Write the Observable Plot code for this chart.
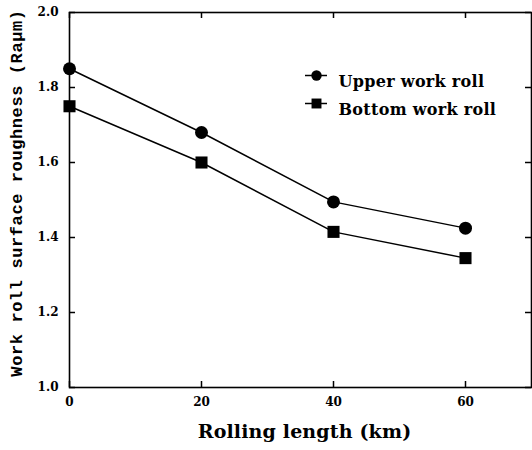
<!DOCTYPE html>
<html>
<head>
<meta charset="utf-8">
<script src="https://cdn.jsdelivr.net/npm/d3@7"></script>
<script src="https://cdn.jsdelivr.net/npm/@observablehq/plot@0.6"></script>
<style>
  body { margin: 0; background: #fff; }
  svg g[font-size="19"] { letter-spacing: 0.15px; }
  svg g[font-size="17"] { letter-spacing: 0.6px; }
  svg g[font-size="16"] { letter-spacing: 0.3px; }
</style>
</head>
<body>
<div id="chart"></div>
<script>
// Roll roughness measured against rolling length
const lengths = [0, 20, 40, 60];
const upperRoll = [1.85, 1.68, 1.495, 1.425];
const bottomRoll = [1.75, 1.60, 1.415, 1.345];
const seriesNames = ["Upper work roll", "Bottom work roll"];
const seriesSymbols = ["circle", "square"];
const xTicks = [0, 20, 40, 60];
const yTicks = [1.0, 1.2, 1.4, 1.6, 1.8, 2.0];
const xLabel = "Rolling length (km)";
const yLabel = "Work roll surface roughness (Raμm)";

const W = 532, H = 450;
const mL = 69, mR = 1, mT = 12, mB = 63;
const fw = W - mL - mR, fh = H - mT - mB;
const tick = 6;
const serif = "'DejaVu Serif', serif";
const mono = "'Liberation Mono', 'DejaVu Sans Mono', monospace";

const rows = [
  ...lengths.map((x, i) => ({series: seriesNames[0], x, y: upperRoll[i]})),
  ...lengths.map((x, i) => ({series: seriesNames[1], x, y: bottomRoll[i]}))
];
const symbolSize = {circle: 6.5, square: 6.8};
const tickStyle = {stroke: "black", strokeWidth: 1.5};

const marks = [
  Plot.frame({stroke: "black", strokeWidth: 1.6}),
  // inward ticks on all four sides
  Plot.ruleX(xTicks, {x: d => d, insetTop: fh - tick, ...tickStyle}),
  Plot.ruleX(xTicks, {x: d => d, insetBottom: fh - tick, ...tickStyle}),
  Plot.ruleY(yTicks, {y: d => d, insetRight: fw - tick, ...tickStyle}),
  Plot.ruleY(yTicks, {y: d => d, insetLeft: fw - tick, ...tickStyle}),
  Plot.axisX({ticks: xTicks, tickSize: 0, tickPadding: 10, tickFormat: d => String(d), fontSize: 12, fontWeight: "bold", label: null}),
  Plot.axisY({ticks: yTicks, tickSize: 0, tickPadding: 11, tickFormat: d3.format(".1f"), fontSize: 12, fontWeight: "bold", label: null}),
  Plot.text([xLabel], {frameAnchor: "bottom", dy: 50, dx: 4, fontSize: 19, fontWeight: "bold", fill: "black"}),
  Plot.text([yLabel], {frameAnchor: "left", textAnchor: "middle", rotate: -90, dx: -53, dy: -7, fontFamily: mono, fontSize: 17, fontWeight: "bold", fill: "black"}),
  Plot.line(rows, {x: "x", y: "y", z: "series", stroke: "black", strokeWidth: 1.5})
];

seriesNames.forEach((name, i) => {
  const pts = rows.filter(d => d.series === name);
  const sym = seriesSymbols[i];
  marks.push(Plot.dot(pts, {x: "x", y: "y", symbol: () => sym, r: symbolSize[sym], fill: "black", stroke: "none"}));
  // legend entry: short line with the series symbol, then its name
  const dy = 63 + i * 28;
  const ly = 2.0 - dy / fh;
  marks.push(Plot.ruleY([ly], {y: d => d, insetLeft: 236, insetRight: fw - 258, stroke: "black", strokeWidth: 1.5}));
  marks.push(Plot.dot([name], {frameAnchor: "top-left", dx: 247, dy, symbol: () => sym, r: sym === "circle" ? 5.2 : 5.6, fill: "black"}));
  marks.push(Plot.text([name], {frameAnchor: "top-left", dx: 269, dy, textAnchor: "start", fontSize: 16, fontWeight: "bold", fill: "black"}));
});

const chart = Plot.plot({
  width: W,
  height: H,
  marginLeft: mL,
  marginRight: mR,
  marginTop: mT,
  marginBottom: mB,
  style: {fontFamily: serif, color: "black", background: "white"},
  x: {domain: [0, 70]},
  y: {domain: [1.0, 2.0]},
  symbol: {type: "identity"},
  marks
});
document.getElementById("chart").appendChild(chart);
</script>
</body>
</html>
